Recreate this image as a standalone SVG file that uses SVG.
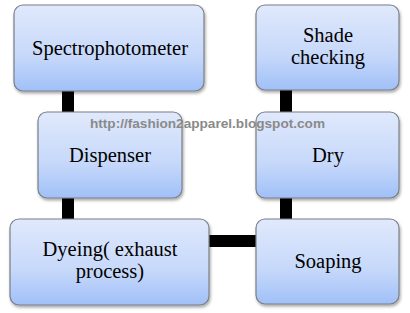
<svg xmlns="http://www.w3.org/2000/svg" width="410" height="313" viewBox="0 0 410 313">
<defs>
<linearGradient id="g" x1="0" y1="0" x2="0" y2="1">
<stop offset="0" stop-color="#e0e9fc"/>
<stop offset="0.6" stop-color="#c6d8fa"/>
<stop offset="1" stop-color="#a0c0f8"/>
</linearGradient>
<filter id="sh" x="-10%" y="-10%" width="125%" height="130%">
<feDropShadow dx="1" dy="2" stdDeviation="1.5" flood-color="#000" flood-opacity="0.35"/>
</filter>
</defs>
<style>
.box{fill:url(#g);stroke:#7a7f88;stroke-width:1.2;filter:url(#sh)}
.lbl{font-family:"Liberation Serif","Times New Roman",serif;font-size:20.5px;fill:#000;text-anchor:middle}
.wm{font-family:"Liberation Sans",Arial,sans-serif;font-size:12px;fill:#8a8a8a;font-weight:bold}
.c{fill:#000}
</style>
<rect width="410" height="313" fill="#fff"/>
<g id="connectors">
<rect class="c" x="62" y="88" width="12" height="26"/>
<rect class="c" x="62" y="196" width="12" height="25"/>
<rect class="c" x="280" y="88" width="12" height="26"/>
<rect class="c" x="280" y="196" width="12" height="25"/>
<rect class="c" x="207" y="235" width="51" height="12"/>
</g>
<g id="spectrophotometer">
<rect class="box" x="14" y="5" width="190" height="86" rx="9"/>
<text class="lbl" x="110" y="55">Spectrophotometer</text>
</g>
<g id="shade-checking">
<rect class="box" x="256" y="5" width="143" height="85" rx="9"/>
<text class="lbl" x="328" y="42">Shade</text>
<text class="lbl" x="328" y="64">checking</text>
</g>
<g id="dispenser">
<rect class="box" x="38" y="112" width="144" height="86" rx="9"/>
<text class="lbl" x="110" y="162">Dispenser</text>
</g>
<g id="dry">
<rect class="box" x="256" y="112" width="143" height="86" rx="9"/>
<text class="lbl" x="328" y="162">Dry</text>
</g>
<g id="dyeing">
<rect class="box" x="10" y="219" width="199" height="86" rx="9"/>
<text class="lbl" x="110" y="256">Dyeing( exhaust</text>
<text class="lbl" x="110" y="278">process)</text>
</g>
<g id="soaping">
<rect class="box" x="256" y="219" width="143" height="85" rx="9"/>
<text class="lbl" x="328" y="268">Soaping</text>
</g>
<text class="wm" x="90" y="128" textLength="235" lengthAdjust="spacingAndGlyphs">http://fashion2apparel.blogspot.com</text>
</svg>
